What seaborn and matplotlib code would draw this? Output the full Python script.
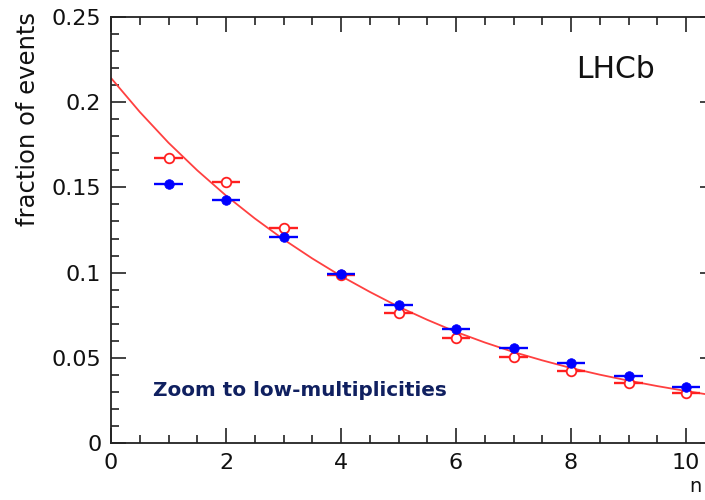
import matplotlib
matplotlib.use("Agg")
import matplotlib.pyplot as plt
import seaborn as sns
import numpy as np
import pandas as pd
from matplotlib.ticker import MultipleLocator

# ---- data ----
n_values = [1, 2, 3, 4, 5, 6, 7, 8, 9, 10]
blue_frac = [0.152, 0.1426, 0.1209, 0.0992, 0.0810, 0.0669, 0.0559, 0.0468, 0.0393, 0.0330]
red_frac = [0.1671, 0.1530, 0.1260, 0.0986, 0.0765, 0.0618, 0.0507, 0.0423, 0.0354, 0.0295]
bin_half_width = 0.25

fit_n = [0, 0.5, 1, 1.5, 2, 2.5, 3, 3.5, 4, 4.5, 5, 5.5, 6, 6.5, 7, 7.5, 8, 8.5, 9, 9.5, 10, 10.5]
fit_frac = [0.2142, 0.1943, 0.1762, 0.1600, 0.1452, 0.1318, 0.1195, 0.1083, 0.0980, 0.0887,
            0.0800, 0.0723, 0.0652, 0.0590, 0.0534, 0.0485, 0.0440, 0.0401, 0.0366, 0.0334,
            0.0305, 0.0278]

x_ticks = [0, 2, 4, 6, 8, 10]
x_tick_labels = ["0", "2", "4", "6", "8", "10"]
y_ticks = [0, 0.05, 0.1, 0.15, 0.2, 0.25]
y_tick_labels = ["0", "0.05", "0.1", "0.15", "0.2", "0.25"]

sns.set_theme(style="ticks")
plt.rcParams["font.family"] = ["DejaVu Sans"]

fig = plt.figure(figsize=(7.05, 5.0), dpi=100)
ax = fig.add_axes([111 / 705, 57 / 500, 603.75 / 705, 426 / 500])

RED = "#ff2020"
BLUE = "#0000ff"

df_fit = pd.DataFrame({"n": fit_n, "frac": fit_frac})
sns.lineplot(data=df_fit, x="n", y="frac", ax=ax, color="#ff4040", lw=1.3, zorder=2)

df_red = pd.DataFrame({"n": n_values, "frac": red_frac})
df_blue = pd.DataFrame({"n": n_values, "frac": blue_frac})

ax.errorbar(df_red["n"], df_red["frac"], xerr=bin_half_width, fmt="none",
            ecolor=RED, elinewidth=1.7, capsize=0, zorder=3)
sns.scatterplot(data=df_red, x="n", y="frac", ax=ax, marker="o", s=48,
                facecolor="white", edgecolor=RED, linewidth=1.3, zorder=4)
ax.errorbar(df_blue["n"], df_blue["frac"], xerr=bin_half_width, fmt="none",
            ecolor=BLUE, elinewidth=1.7, capsize=0, zorder=5)
sns.scatterplot(data=df_blue, x="n", y="frac", ax=ax, marker="o", s=48,
                color=BLUE, edgecolor=BLUE, linewidth=0.5, zorder=6)

ax.set_xlim(0, 10.5)
ax.set_ylim(0, 0.25)
ax.set_xticks(x_ticks)
ax.set_xticklabels(x_tick_labels)
ax.set_yticks(y_ticks)
ax.set_yticklabels(y_tick_labels)
ax.xaxis.set_minor_locator(MultipleLocator(0.5))
ax.yaxis.set_minor_locator(MultipleLocator(0.01))
ax.tick_params(which="both", direction="in", top=True, right=True, color="#222222", width=1.2)
ax.tick_params(which="major", length=11, labelsize=16, labelcolor="#111111")
ax.tick_params(which="minor", length=6)
ax.tick_params(axis="y", which="major", pad=7)
ax.tick_params(axis="x", which="major", pad=7)
for sp in ax.spines.values():
    sp.set_visible(True)
    sp.set_color("#222222")
    sp.set_linewidth(1.3)
ax.set_xlabel("")
ax.set_ylabel("")
ax.grid(False)

fig.text(28 / 705, 1 - 12 / 500, "fraction of events", rotation=90, ha="center", va="top",
         fontsize=17.5, color="#111111")
fig.text(689 / 705, 1 - 486 / 500, "n", ha="left", va="center", fontsize=14, color="#111111")
ax.text(576 / 705, 1 - 70 / 500, "LHCb", transform=fig.transFigure, ha="left", va="center",
        fontsize=21.5, color="#111111")
ax.text(153 / 705, 1 - 390 / 500, "Zoom to low-multiplicities", transform=fig.transFigure,
        ha="left", va="center", fontsize=14.4, fontweight="bold", color="#102060")

fig.savefig("out.png", dpi=100)
